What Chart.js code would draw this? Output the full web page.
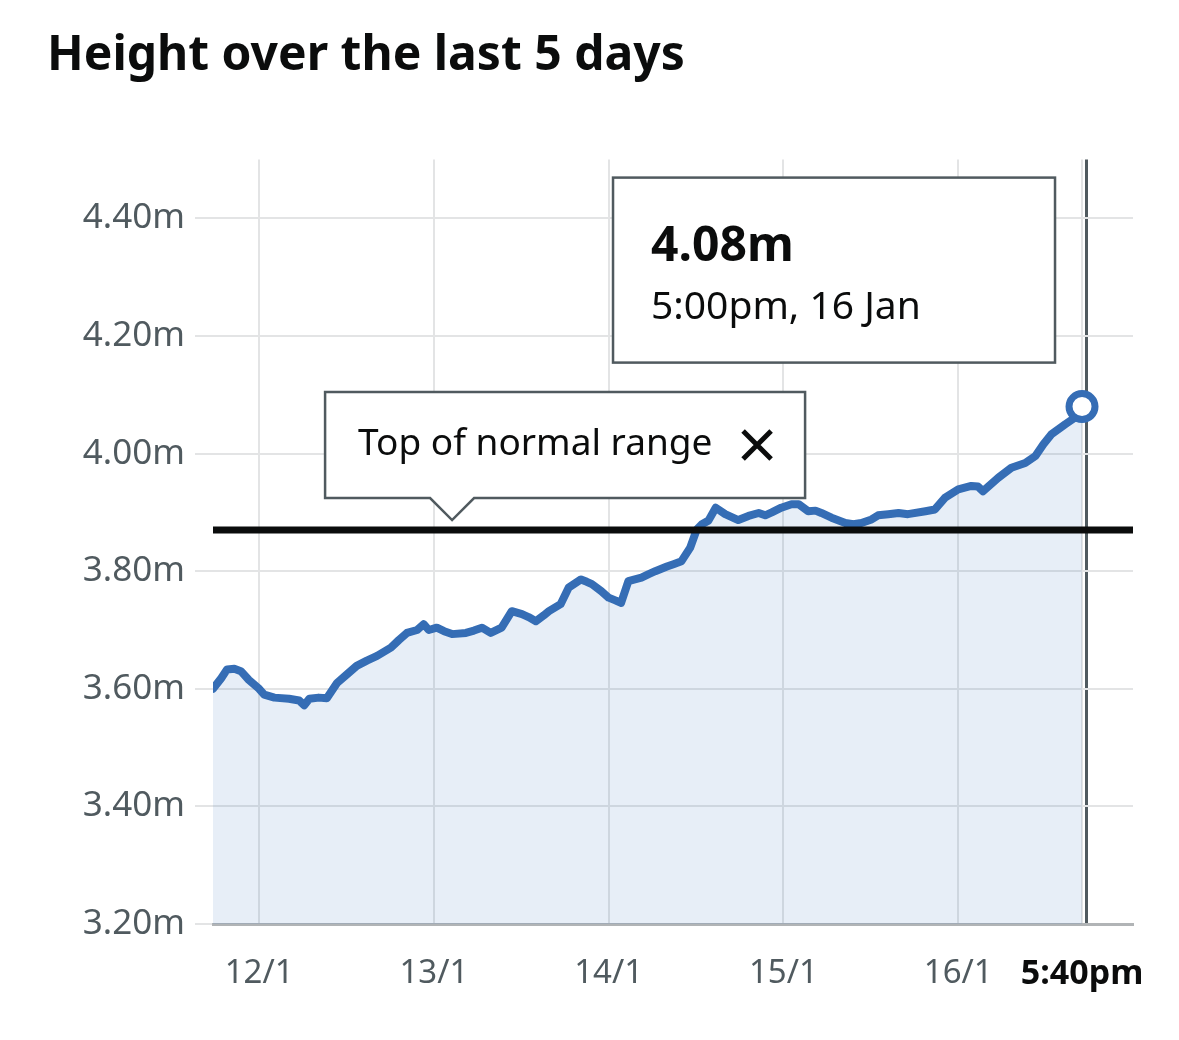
<!DOCTYPE html>
<html>
<head>
<meta charset="utf-8">
<script src="https://cdn.jsdelivr.net/npm/chart.js@4.4.1/dist/chart.umd.min.js"></script>
<style>
  html, body { margin: 0; background: #fff; }
  #wrap { width: 1179px; height: 1040px; }
</style>
</head>
<body>
<div id="wrap"><canvas id="heightChart"></canvas></div>
<script>
// hours since 00:00 on 12 Jan
const hours = [-6.33, -5.2, -4.4, -3.4, -2.5, -1.4, 0, 0.7, 2.1, 4.1, 5.5, 6.2, 6.9, 8.2, 9.3,
  10.7, 12.1, 13.4, 14.8, 16.2, 18.1, 19.2, 20.3, 21.7, 22.6, 23.3, 24.4, 25.4, 26.5, 28.4,
  29.5, 30.6, 31.8, 33.3, 34.0, 34.7, 36.1, 37.0, 38.0, 39.1, 39.8, 41.4, 42.5, 44.2, 45.0,
  45.7, 47.0, 48.0, 49.0, 49.7, 50.7, 52.5, 53.5, 54.4, 56.0, 56.9, 58.0, 59.2, 60.1, 60.8,
  61.7, 62.7, 64.0, 65.8, 67.2, 68.6, 69.5, 70.4, 71.7, 73.1, 74.1, 75.4, 76.4, 77.2, 78.6,
  80.5, 81.6, 82.7, 84.1, 85.0, 86.4, 87.8, 89.1, 91.5, 92.8, 94.2, 96.0, 97.8, 98.7, 99.4,
  101.5, 103.3, 105.2, 106.6, 107.7, 108.8, 110.7, 112.0, 113.0];
const heights = [3.600, 3.618, 3.633, 3.634, 3.630, 3.615, 3.600, 3.590, 3.585, 3.583, 3.580, 3.572, 3.583, 3.585, 3.584,
  3.610, 3.625, 3.639, 3.648, 3.656, 3.670, 3.683, 3.695, 3.700, 3.710, 3.700, 3.704, 3.698, 3.693, 3.695,
  3.699, 3.704, 3.695, 3.704, 3.718, 3.732, 3.727, 3.722, 3.715, 3.725, 3.732, 3.744, 3.772, 3.786, 3.782,
  3.778, 3.766, 3.755, 3.750, 3.746, 3.783, 3.789, 3.795, 3.800, 3.808, 3.812, 3.817, 3.840, 3.871, 3.880,
  3.886, 3.908, 3.897, 3.887, 3.894, 3.899, 3.895, 3.900, 3.908, 3.914, 3.914, 3.902, 3.903, 3.899, 3.891,
  3.882, 3.880, 3.882, 3.888, 3.895, 3.897, 3.899, 3.897, 3.902, 3.905, 3.925, 3.939, 3.945, 3.944, 3.936,
  3.959, 3.976, 3.984, 3.996, 4.016, 4.033, 4.050, 4.061, 4.080];

const yTicks = [3.2, 3.4, 3.6, 3.8, 4.0, 4.2, 4.4];
const dayTicks = [0, 24, 48, 72, 96];
const dayLabels = ['12/1', '13/1', '14/1', '15/1', '16/1'];
const nowHour = 113 + 40 / 60;   // 5:40pm, 16 Jan
const nowLabel = '5:40pm';
const topOfNormal = 3.87;
const latestText = '4.08m';
const latestTime = '5:00pm, 16 Jan';

const FONT = '"Noto Sans", sans-serif';
const BLUE = '#356db5';
const GREY = '#505a5f';

const points = hours.map((h, i) => ({ x: h, y: heights[i] }));
const lastIdx = points.length - 1;
// light line at the latest reading carries the "now" label, dark line marks 5:40pm
const xTickValues = dayTicks.concat([hours[lastIdx], nowHour]);
const xTickLabels = dayLabels.concat([nowLabel, '']);

const annotations = {
  id: 'annotations',
  afterDatasetsDraw(chart) {
    const { ctx, scales: { x, y } } = chart;
    ctx.save();

    // "Top of normal range" callout
    const tipX = x.getPixelForValue(26.5);
    const tipY = y.getPixelForValue(topOfNormal) - 10;
    const bottom = tipY - 22;
    const top = bottom - 106;
    const left = tipX - 127;
    const right = left + 480;
    ctx.beginPath();
    ctx.moveTo(left, top);
    ctx.lineTo(right, top);
    ctx.lineTo(right, bottom);
    ctx.lineTo(tipX + 22, bottom);
    ctx.lineTo(tipX, tipY);
    ctx.lineTo(tipX - 22, bottom);
    ctx.lineTo(left, bottom);
    ctx.closePath();
    ctx.fillStyle = '#fff';
    ctx.fill();
    ctx.lineWidth = 2.5;
    ctx.strokeStyle = GREY;
    ctx.stroke();
    ctx.fillStyle = '#0b0c0c';
    ctx.font = '37px ' + FONT;
    ctx.textBaseline = 'middle';
    ctx.textAlign = 'left';
    ctx.fillText('Top of normal range', left + 33, top + 52);
    const cx = right - 48, cy = top + 53, s = 14;
    ctx.beginPath();
    ctx.moveTo(cx - s, cy - s); ctx.lineTo(cx + s, cy + s);
    ctx.moveTo(cx + s, cy - s); ctx.lineTo(cx - s, cy + s);
    ctx.lineWidth = 5;
    ctx.strokeStyle = '#0b0c0c';
    ctx.stroke();

    // latest reading box
    const px = x.getPixelForValue(hours[lastIdx]);
    const bRight = px - 27;
    const bLeft = bRight - 442;
    const bTop = chart.chartArea.top + 18;
    const bH = 185;
    ctx.fillStyle = '#fff';
    ctx.fillRect(bLeft, bTop, 442, bH);
    ctx.lineWidth = 2.5;
    ctx.strokeStyle = GREY;
    ctx.strokeRect(bLeft, bTop, 442, bH);
    ctx.fillStyle = '#0b0c0c';
    ctx.font = 'bold 48px ' + FONT;
    ctx.fillText(latestText, bLeft + 38, bTop + 70);
    ctx.font = '39px ' + FONT;
    ctx.fillText(latestTime, bLeft + 38, bTop + 130);
    ctx.restore();
  }
};

new Chart(document.getElementById('heightChart'), {
  type: 'line',
  data: {
    datasets: [{
      label: 'Top of normal range',
      data: [{ x: -6.33, y: topOfNormal }, { x: 120, y: topOfNormal }],
      borderColor: '#0b0c0c',
      borderWidth: 7,
      pointRadius: 0,
      fill: false,
      order: 0
    }, {
      label: 'Height',
      data: points,
      borderColor: BLUE,
      borderWidth: 8,
      borderJoinStyle: 'round',
      borderCapStyle: 'round',
      backgroundColor: 'rgba(40, 100, 185, 0.11)',
      fill: 'start',
      tension: 0,
      pointRadius: (c) => c.dataIndex === lastIdx ? 13 : 0,
      pointBorderWidth: 7,
      pointBorderColor: BLUE,
      pointBackgroundColor: '#fff',
      order: 1
    }]
  },
  options: {
    responsive: true,
    maintainAspectRatio: false,
    animation: false,
    layout: { padding: { left: 47, right: 46, top: 0, bottom: 0 } },
    plugins: {
      legend: { display: false },
      tooltip: { enabled: false },
      title: {
        display: true,
        text: 'Height over the last 5 days',
        align: 'start',
        color: '#0b0c0c',
        font: { family: FONT, size: 48, weight: 'bold' },
        padding: { top: 28, bottom: 74 }
      }
    },
    scales: {
      x: {
        type: 'linear',
        min: -6.33,
        max: 120,
        afterBuildTicks: (s) => { s.ticks = xTickValues.map(v => ({ value: v })); },
        afterFit: (s) => { s.height = 116; },
        border: { display: true, color: '#b1b4b6', width: 3 },
        grid: {
          drawTicks: false,
          color: (c) => c.index === 6 ? GREY : '#e3e4e5',
          lineWidth: (c) => c.index === 6 ? 3 : 2
        },
        ticks: {
          autoSkip: false,
          maxRotation: 0,
          padding: 30,
          callback: (v, i) => xTickLabels[i],
          color: (c) => c.index === 5 ? '#0b0c0c' : GREY,
          font: (c) => c.index === 5
            ? { family: FONT, size: 34, weight: 'bold' }
            : { family: FONT, size: 33 }
        }
      },
      y: {
        min: 3.2,
        max: 4.5,
        afterBuildTicks: (s) => { s.ticks = yTicks.map(v => ({ value: v })); },
        afterFit: (s) => { s.width = 166; },
        border: { display: false },
        grid: { color: '#e3e4e5', lineWidth: 2, tickLength: 18 },
        ticks: {
          padding: 10,
          color: GREY,
          font: { family: FONT, size: 35 },
          callback: (v) => v.toFixed(2) + 'm'
        }
      }
    }
  },
  plugins: [annotations]
});
</script>
</body>
</html>
